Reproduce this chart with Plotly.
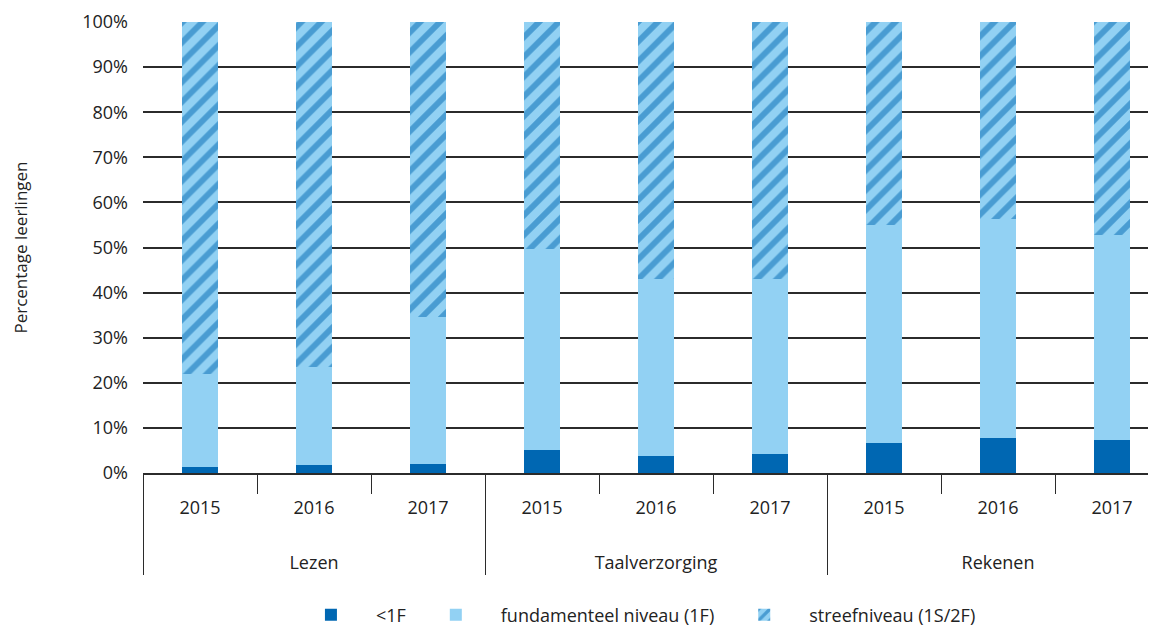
import plotly.graph_objects as go

subjects = ["Lezen"] * 3 + ["Taalverzorging"] * 3 + ["Rekenen"] * 3
years = ["2015", "2016", "2017"] * 3

below_1f = [1.3, 1.8, 2.0, 5.1, 3.8, 4.2, 6.7, 7.8, 7.3]
fundamenteel = [20.7, 21.7, 32.6, 44.6, 39.3, 38.9, 48.4, 48.6, 45.4]
streef = [round(100 - a - b, 1) for a, b in zip(below_1f, fundamenteel)]

DARK = "#0067b2"
LIGHT = "#92d1f3"
LINE = "#2b2b2b"
FONT = "Open Sans, sans-serif"

# leading line breaks push the subject row further below the years
subject_labels = ["<br><br>" + s for s in subjects]
x_cats = [subject_labels, years]

fig = go.Figure()
fig.add_trace(go.Bar(
    x=x_cats, y=below_1f, name="<1F",
    marker=dict(color=DARK, line=dict(width=0)),
))
fig.add_trace(go.Bar(
    x=x_cats, y=fundamenteel, name="fundamenteel niveau (1F)",
    marker=dict(color=LIGHT, line=dict(width=0)),
))
fig.add_trace(go.Bar(
    x=x_cats, y=streef, name="streefniveau (1S/2F)",
    marker=dict(
        color=LIGHT, line=dict(width=0),
        pattern=dict(shape="/", fgcolor=DARK, bgcolor=LIGHT, size=14, solidity=0.42),
    ),
))

# the page body adds an 8px offset, margins are set against that
fig.update_layout(
    barmode="stack",
    bargap=0.685,
    width=1156, height=638,
    paper_bgcolor="white", plot_bgcolor="white",
    font=dict(family=FONT, size=18, color="#222"),
    margin=dict(t=14, b=173, l=135, r=0, autoexpand=False),
    showlegend=True,
    legend=dict(
        orientation="h", x=0.14, y=-0.315, xanchor="left", yanchor="middle",
        font=dict(size=18), itemwidth=80, traceorder="normal",
    ),
    xaxis=dict(
        type="multicategory", range=[-0.5, 8.456], automargin=False,
        showline=True, linecolor=LINE, linewidth=1.5,
        ticks="outside", tickson="boundaries", ticklen=19,
        tickcolor=LINE, tickwidth=1.2, ticklabelstandoff=18,
        showdividers=True, dividercolor=LINE, dividerwidth=1.2,
        showgrid=False,
    ),
    yaxis=dict(
        range=[0, 100], dtick=10, ticksuffix="%", automargin=False,
        showgrid=True, gridcolor=LINE, gridwidth=1.5,
        zeroline=False, ticks="", ticklabelstandoff=14,
        title=dict(text="Percentage leerlingen", standoff=50, font=dict(size=17)),
    ),
)

fig.write_html("out.html")
